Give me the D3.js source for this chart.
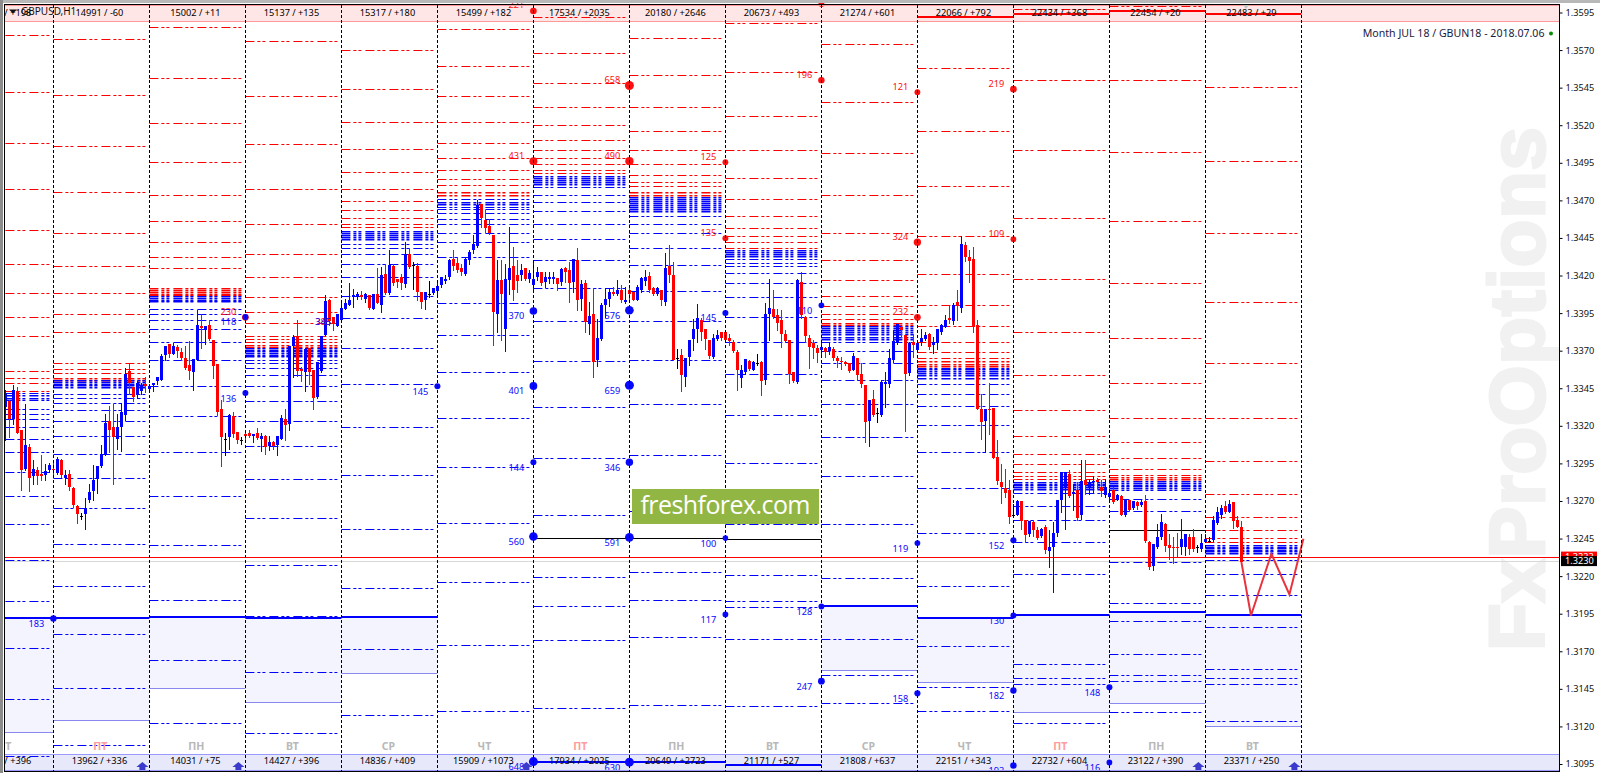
<!DOCTYPE html>
<html><head><meta charset="utf-8">
<script src="https://cdn.jsdelivr.net/npm/d3@7/dist/d3.min.js"></script>
<style>html,body{margin:0;padding:0;background:#fff}svg{display:block}text{font-family:"Noto Sans",sans-serif}</style>
</head><body><svg id="c" width="1600" height="773"></svg>
<script>
// all prices in pips above 1.3000
const priceTicks=[595,570,545,520,495,470,445,420,395,370,345,320,295,270,245,220,195,170,145,120,95];
const headerLabels=["15051 / +198","14991 / -60","15002 / +11","15137 / +135","15317 / +180","15499 / +182","17534 / +2035","20180 / +2646","20673 / +493","21274 / +601","22066 / +792","22434 / +368","22454 / +20","22483 / +29"];
const footerLabels=["13626 / +396","13962 / +336","14031 / +75","14427 / +396","14836 / +409","15909 / +1073","17934 / +2025","20649 / +2723","21171 / +527","21808 / +637","22151 / +343","22732 / +604","23122 / +390","23371 / +250"];
const dayLabels=["ЧТ","ПТ","ПН","ВТ","СР","ЧТ","ПТ","ПН","ВТ","СР","ЧТ","ПТ","ПН","ВТ"];
const arrowCols=[1,2,5,12,13];
const redLevels=[
[579.8,541.8,507.9,477.3,450.6,428,408.7,392.7,380,356.7,352,348.8,343.2],
[577.1,539.8,505.9,475.3,448.6,426.6,408.7,394.7,382.7,362.1,358.1,355.2,352.1,350.8],
[585.1,551.1,521.2,495.2,473.9,456.6,442.6,432,424.7,412,410.7,409.3,408,407.1],
[575.8,539.2,507.2,477.9,454,434.6,418.7,406,396,388.7,380,378,376,374,372.7],
[569.8,543.8,521.9,503.9,489.2,477.9,469.9,463.9,458.6,454,452.2],
[583.8,559.1,539.2,521.9,507.9,497.9,489.9,483.9,479.9,475.3,473.9],
[591.8,567.8,547.8,531.8,519.9,509.9,503.2,497.9,493.9,489.9,487.9],
[577.8,553.2,531.8,515.9,503.2,493.9,487.2,481.9,479.3,475.3,473.9],
[587.8,555.1,525.9,503.2,485.2,470.6,459.9,451.9,446.6,442.6,438.5],
[573.8,535.2,501.2,473.3,448.6,430.6,416.7,406.7,400,394.7,391.4,388.7,387.4],
[557.8,515.9,479.3,446.6,420.7,400.7,386.1,376.1,368.8,364.8,362.8,361.4,360.1],
[597.3,549.8,503.2,458.6,418,382.7,354.1,330.8,313.5,301.5,294.9,289.5,286.9,284.9],
[599.3,549.8,501.9,456.6,414.7,378.7,348.8,325.5,309.4,298.9,291.5,287.6,285.7,284.8],
[545.2,495.9,448.6,402.7,362.1,325.5,296.9,274.8,259.5,250.8,245.5,242.8]];
const blueLevels=[
[342.1,340.3,338.8,337,331.5,328.1,324.8,319.5,311.5,302.8,289.5,273.5,254.9,230.9,203.6,172.3,138.4,100.4],
[350.3,349.2,348.1,347,345.9,341.4,338.8,335.4,330.8,323.5,313.5,301.5,285.5,265.3,241.6,213.6,181.7,145.7,107.8],
[406.2,405.1,404,402.9,398,394.7,390.7,384.7,376.1,364.1,346.8,326.8,302.8,273.5,240.9,204.3,164.3,122.4],
[371.8,370.7,369.6,368.5,367.4,366.3,364.1,362.1,358.7,354.1,346.8,336.8,323.5,306.8,284.9,258.9,227.6,193.6,156.4,115.7],
[449.7,448.4,447.1,445.7,444.4,441.3,438.6,434,428,418.7,406.7,392,372,348.1,319.5,287.5,251.6,212.3,171.7,127.7],
[470.6,469,467.5,465.7,464,461.3,457.9,454.6,448.6,442,432,402,380.7,356.1,325.5,292.8,255.5,216.3,174.3,130.4],
[486.1,484.8,483.5,481.9,480.6,479,473.3,468.6,462.6,454.6,444,430,412,390,362.8,332.8,298.9,260.8,219.5,200.2,177.6,132.3],
[472.4,471,469.7,468.4,467,465.7,464.4,463,459.9,454.6,448.6,438.6,426.7,410,390,364.1,334.8,300.9,263.5,222.9,204.2,179.6,134.3],
[436.9,435.6,434.2,432.9,430.7,428.5,426.2,422,414.7,406,392.7,376.1,354.8,327.5,295.5,254.8,220.9,203.5,199.6,178.3,133.6],
[386.3,385,383.6,382.3,381,379.2,377.6,375.9,370.1,362.1,350.8,334.8,312.8,286.9,254.8,218.9,178.3,154.3,135.6,90.6],
[358.8,357.7,356.6,355.4,353.7,352.1,348.1,341.5,333.5,320.8,302.9,278.9,248.8,213.5,173.6,146.3,130.3,90.6],
[282.6,281.5,280.3,279.2,278.1,275.5,266.8,257.5,242.8,221.5,161.6,152.3,148.3,122.3],
[283.2,281.9,280.8,279.7,278.6,277,271.2,263.5,229.5,202.2,190.2,168.3,154.1,150.3,129.7],
[240.8,239.7,238.6,237.5,236.4,235.3,230.9,221.5,207.6,186.3,158.3,152.3,148.3,123.7]];
// [column, price]
const thickBlue=[[0,191.9],[1,191.9],[2,192.5],[3,191.9],[4,192.5],[6,96.1],[7,96],[8,94.6],[9,200],[10,192],[11,194],[12,195.8],[13,194]];
const fillFloor=[[0,191.9,116.4],[1,191.9,124.4],[2,192.5,145.7],[3,191.9,136.4],[4,192.5,155.7],[9,200,157.8],[10,192,149.6],[11,194,129.7],[12,195.8,135.7],[13,194,120.3]];
const thickRed=[[10,592.2],[11,594],[12,596.2],[13,594]];
const blackLevels=[[6,245.5],[7,245.5],[8,244.8],[12,250.8]];
// [separator, price, volume label]
const redDots=[[5,596,221],[5,496.1,431],[6,546.4,658],[6,496.1,490],[7,495.4,125],[7,444.8,135],[8,550,196],[8,600.6,null],[9,542,121],[10,544,219],[9,442.2,324],[10,444.2,109],[9,392.2,232],[2,392.2,230]];
const blueDots=[[2,392.4,118],[2,341.8,136],[4,346.3,145],[5,396.4,370],[5,346.5,401],[5,295.7,144],[5,246.4,560],[0,191.8,183],[5,96.6,648],[6,396.9,576],[6,347,659],[6,295.7,346],[6,245.8,591],[6,96.2,630],[7,395.1,145],[7,245.3,100],[7,194.5,117],[8,400.2,110],[8,199.8,128],[8,150.1,247],[9,242,119],[9,142.1,158],[10,243.8,152],[10,193.8,130],[10,143.9,182],[10,94,193],[11,146.1,148],[11,96,116]];
const bidPrice=233, askPrice=230;
const forecastBars=[309,311.4,316.5,321,324.5];
const forecastPrices=[229.3,193.8,234.9,207.8,244.8];
// open, high, low, close
const candles=[
[332.6,343.7,310.4,341.4],[336.6,337,312.6,324.8],[324.8,347,321.5,343.7],[343.2,345.9,315,315.5],[317,317.5,277,290.4],[291,334.8,290.4,307],[306,307.7,276.6,285.3],[286.4,297,281,291.5],[290.8,292.6,281.5,286.4],[287.7,300.8,283.7,286.4],
[287.1,294.8,284.2,290],[290.4,295.3,289.5,293.7],[291.5,297,286,290.6],[288.8,299.3,288.2,297.7],[297,297.7,286,287],[285.5,290.8,281,287],[287.7,290.8,277,279.3],[278.9,279.3,266,267.1],[266.7,267.1,255.3,261.1],[260.2,262,258.2,260.2],
[261.1,272.2,251.1,265.5],[270.4,281.5,269.3,275.8],[276.6,293.7,270.4,283.7],[284.6,293,275.3,293],[293.3,307,292.6,301],[301.3,327.7,300.4,321.7],[323,333,302.6,317],[319.2,334.8,281,312.6],[311.5,328.1,304.8,319],[319.2,335.2,303.3,329],
[327.2,358.7,323.7,354.8],[356.3,361,341.4,348.8],[345.9,345.9,336.6,339.2],[340.3,349.9,338.8,348.5],[343.2,348.5,341.4,347],[348.1,352.5,342.5,346.3],[344.5,347.6,344,346.8],[347.4,348.8,343.2,348.8],[349.9,352.5,348.1,352.5],[350.3,368,350.3,366.3],
[367,373,363.6,373],[374.3,374.7,365.8,368],[367.6,375.2,367.6,373],[372.5,373.6,365.8,369.8],[369,372,363.6,365.4],[365.2,373,358.1,358.5],[360.3,376.3,351.4,356.3],[355.6,364.7,344.1,364.7],[364.1,396.9,363.6,386.9],[386.3,394.7,372,384.9],
[384,386.3,374.7,386.3],[386.9,390.7,377,378],[377,377,351.9,359.6],[361,361,327,329.2],[331,337,293.3,312.6],[311.5,315.5,300.6,311.5],[312.6,327.7,304.8,327.5],[326.8,329.5,312.6,314.4],[315.7,315.9,308.6,310.8],[310.4,312.6,308.2,310.4],
[314.8,317,311.5,313.3],[315,317,312.6,313.3],[313,314.8,309.3,314.4],[315,318.6,311,312.1],[311,315,303.3,313],[313.5,313.7,301.5,306],[306.4,313.3,303.7,309.3],[309.5,309.7,304.8,306.8],[307,313,300.8,313],[311.3,327,311,325.5],
[324.8,331,310.4,320.6],[321,373,317,373],[373,380.3,352.5,379.2],[379.6,390.7,353,356.5],[358,359.2,349.9,356.5],[355.9,372,343.2,371.2],[372,372,347.6,355.9],[357,357,331.2,338.8],[339.2,362.5,338.8,362.5],[356.5,379.6,355.9,379.6],
[380.3,406.9,380.3,402.9],[404,404.7,387,389.8],[392.5,392.5,384,388],[386.7,394.3,386.3,394.3],[390.7,401.4,390.7,398.7],[397.4,404.7,397.4,401.4],[400.2,414.7,400.2,403.6],[405.8,411.3,399.1,406.9],[405.8,409.1,404.7,408],[406.9,409.8,404.7,405.8],
[404.7,408.5,402.5,408],[406.9,406.9,398,398.5],[397.6,408,397.4,408],[408,424.7,401.4,401.8],[400.7,425.8,395.8,420.2],[420.9,428,408,408.5],[408.5,436.9,408,426.9],[426.2,428,413.6,414.7],[418,418,412.4,415.8],[418.7,421.3,411.3,415.1],
[414.2,442.4,412.4,434],[434.6,438.4,424.7,425.8],[426.9,429,411.3,426.9],[426.2,428.4,403.6,409.1],[408.9,409.1,398.5,402.5],[403.6,408.9,397.4,408.9],[408,416.2,405.8,408],[408.5,412,408,412],[409.8,416.9,408,412.9],[413.6,419.1,412.4,418.7],
[416.2,420.2,415.1,418],[418.7,431,418,430],[431.3,436.9,424,426.6],[428.4,432.4,422.4,423.5],[424.9,427.5,420.2,422.4],[421.3,432,420.2,431.3],[430.2,437,428,435.8],[436.9,446.9,435,441.3],[439.8,470.2,439,466.8],[467.5,467.9,452.4,458],
[456.8,463.5,449.1,451.7],[452.8,457.9,447.9,448.6],[446.9,447,373.6,395.8],[394.7,430,382.5,416.9],[416.9,430,377,408],[384.7,428,369.8,418],[416.9,452.4,408,424.7],[426.2,439,403.6,410.2],[420.2,430,409,416.4],[420.2,427.5,416.9,423.5],
[425.1,425.1,417,418],[418,423.6,415.8,421.4],[413.6,430.2,410.7,418],[419.1,425.8,416.9,422.5],[422.5,422.5,413.6,414.7],[415.4,422.5,412.5,419.1],[418,422.5,414.7,419.1],[417.6,422.5,414.7,419.1],[418.5,418.5,410.3,414.2],[415.8,425.1,413.6,424.5],
[425.1,425.8,415.8,422.5],[424,429.1,402.5,414.7],[415.8,430.7,409.1,430.7],[430.2,438,397,403.6],[404.7,416.9,397,414.2],[414.7,416.9,382.5,389.2],[387.6,402.5,381.4,393],[394.3,411.4,352.6,362.5],[363.7,391.4,359.9,378.7],[377.6,401.4,377,400.3],
[400.3,412,392.5,404.5],[404.3,412,399.6,408.9],[408.9,412.5,406.9,407.6],[407.6,416.9,406.9,410.3],[410.7,413.6,402.5,404],[402.3,412.5,401.8,404],[410.3,412.5,404.7,407.6],[408.9,408.9,403.6,404],[404,413.6,403.6,412.5],[410.3,419.1,409.1,418.2],
[416.2,424,413.6,418.7],[420,422.5,409.1,410.3],[412,412.5,406.9,408],[407.6,412.5,406.9,412],[410.7,410.7,400.3,403.6],[402.5,434.7,400.3,424.9],[426.2,440.2,415.8,420.2],[420.2,428.7,363.7,364.1],[364.8,370.8,358.6,364.8],[366.8,370.8,343.2,353.7],
[352.6,365,346.6,365],[365.9,377,360.3,377],[377.6,391.4,370.3,384.3],[384.3,400.9,375.9,392],[390.3,392,377.4,382.5],[384.3,384.3,371.4,377.6],[377,377,364.8,366.3],[365.9,381.4,365.4,378.7],[378,383.6,377,380.7],[382.3,382.3,377,378.7],
[382.3,382.3,376.5,377],[378.3,381.4,373.6,376.3],[376.1,377,369.2,369.9],[369,370.3,344.1,357],[352.1,360.3,345.9,357],[355.9,364.5,354.3,364.5],[362.8,363.7,357.4,358.1],[357.4,362.8,357,362.3],[361.9,368.1,360.3,361.9],[362.3,362.8,340.4,349.7],
[350.3,401.8,347.7,394.3],[394.3,418,377.4,398.7],[397.8,410.7,392,392.5],[393.8,397.4,383.6,388.5],[390.7,396.9,372.5,381.4],[381,383.6,375.9,376.5],[377,377,348.6,354.8],[356.1,356.1,349.2,349.9],[349.2,417.4,348.6,416.9],[416,422.5,392,393.6],
[392.5,393,375.9,379.6],[378.7,380.1,358.6,372.5],[374.8,377,364.8,372.1],[372.1,373.6,362.5,368.5],[370.3,375.9,365.9,372.5],[371.6,372.5,365.9,369],[369.9,374.8,367.6,372.5],[370.8,372.5,363.7,365.4],[365,366.3,359.2,363.2],[363.2,365.9,358.1,362.3],
[362.5,363.2,360.3,361],[361.9,361.9,355.9,356.6],[357.4,368.5,357,366.3],[365,365.4,350.3,353.7],[354.8,361.9,346,347.7],[347,347,309.3,322.6],[323.3,337,306.4,337],[337.7,343.7,326.4,327],[328.6,332.1,322.6,328.6],[327.3,350.3,326.8,349],
[348.1,356.1,332.6,349],[347.7,370.8,345.9,364.8],[363.7,383.6,362.5,376.3],[374.8,387.6,374.3,387.6],[385.8,386.3,379.2,384],[380.1,381.4,316.4,354.3],[355.4,375.9,353.7,374.8],[375.9,381.4,365.9,373.6],[370.3,377,369.9,374.8],[375.9,384.1,373.6,378.3],
[378.1,382.5,377,380.1],[381,381.9,371.4,372.5],[373.6,379.2,368.5,375.9],[374.8,384.7,370.8,384.5],[382.5,387.6,381.4,387],[385.8,394,385.8,390.7],[392,400.3,388.5,390.3],[389.8,401.4,388,400.5],[402.3,410.3,390.3,400],[398.7,446.6,395.8,440.9],
[440.2,442.2,429.8,432],[432,436.9,415.8,429.8],[430.7,438.7,382.5,385.8],[387,390.3,331,331.5],[331,341,311.3,322.6],[323.3,331,302.9,331],[331.5,348.6,314.8,330.4],[331.7,331.7,298.6,298.6],[299.3,310.8,281.5,283.3],[282.6,294.9,268.6,279.3],
[278.9,291.1,272.6,275.2],[277,283.8,255.3,259.2],[261,268.1,260.4,261],[261,270.8,260.4,270.3],[269.9,269.9,251.5,257],[257.5,257.5,243,247.5],[248.2,257,246.6,257],[255.9,257.5,247,250.8],[250.8,252.6,244.8,245.3],[246.4,252.1,245.9,251.5],
[253,253.7,235.5,237.5],[236.6,250.4,226,239.3],[239.3,255.9,209.3,248.8],[248.6,270.8,247,270.8],[270.8,289.2,262.6,289.2],[279.2,289.2,251.5,289.2],[288.1,290.8,272.6,273],[274.8,281.5,263.7,275.9],[277,282.6,257.5,258.8],[260.4,297,258.2,283.2],
[283.7,297,274.8,280.8],[279.2,284.8,274.8,281.9],[282.6,286.3,275.2,283.2],[284.1,285.4,278.8,282.6],[279.2,283.7,273,276.6],[273.7,284.8,272.6,279.2],[272.6,278.1,271.5,275.2],[277,279.2,268.6,269.2],[270.8,274.4,270.4,273.7],[273,273.7,260.4,261],
[260.6,271.2,260.2,271.2],[270.4,270.8,263.3,264.1],[265,269.7,264.8,269.7],[269,269.7,264.8,266.4],[267,271.5,266.4,269],[270.3,273.7,242.6,243.3],[242.8,243.7,224.9,226.4],[226.9,241.1,224.2,241.1],[239.3,254.8,238.8,246],[246,261.5,244.8,255.9],
[254.8,255.3,237,240.2],[240.4,247.7,231.5,238.8],[239.7,246,228.6,238.8],[239.7,248.6,232.6,238.8],[239.3,257.7,234.9,244.8],[239.7,247.7,234.2,247.7],[246,247.7,234.9,238.2],[246,251.5,237,238.2],[239.3,240.4,236,239.3],[238.2,247.7,236.6,242],
[242.8,248.2,242.6,245],[243.7,246,242.8,243.7],[244.2,259.7,243.3,257.5],[255.3,265.9,254.8,262.8],[261,267,258.8,265.5],[266.6,269.9,261.9,262.6],[262.8,270.8,262.4,267.7],[269,269,252.2,256.4],[257.5,259.7,252.6,253],[253,257,228.6,229.3]];

const W=1600,H=773,L=5,R=1559,T=5,B=771;
const price=p=>1.3+p/10000;
const x=d3.scaleLinear().domain([0,309]).range([5.4,1241.4]);
const y=d3.scaleLinear().domain([1.3595,1.3095]).range([12.5,764]);
const yp=p=>Math.round(y(price(p)));
const sepBar=s=>12+24*s;              // separator s sits at the bar index
const colStart=c=>x(sepBar(c-1)), colEnd=c=>x(sepBar(c));
const RED="#ff0000",BLUE="#0000ff";
const svg=d3.select("#c");
svg.append("defs").append("clipPath").attr("id","plot").append("rect").attr("x",L).attr("y",3).attr("width",R-L).attr("height",B-3);
// window chrome
svg.append("rect").attr("width",W).attr("height",H).attr("fill","#fff");
svg.append("rect").attr("width",W).attr("height",3).attr("fill","#b8b8b8");
svg.append("rect").attr("width",3).attr("height",H).attr("fill","#8c8c8c");
const g=svg.append("g").attr("clip-path","url(#plot)");
// watermark
g.append("text").attr("transform","translate(1544,651) rotate(-90)").attr("font-size",78).attr("font-weight",700)
 .style("font-family","'Liberation Sans'").attr("fill","#f1f1f1").attr("stroke","#f1f1f1").attr("stroke-width",3)
 .attr("textLength",524).text("FxProOptions");
// fills
g.selectAll(".fl").data(fillFloor).join("rect").attr("x",d=>Math.max(colStart(d[0]),L)).attr("width",d=>colEnd(d[0])-Math.max(colStart(d[0]),L))
 .attr("y",d=>yp(d[1])).attr("height",d=>yp(d[2])-yp(d[1])).attr("fill","#f3f4fd");
// header / footer strips
g.append("rect").attr("x",L).attr("y",5).attr("width",R-L).attr("height",16.5).attr("fill","#ffe6e6");
svg.append("line").attr("x1",L).attr("x2",R).attr("y1",5.5).attr("y2",5.5).attr("stroke","#ff9999");
svg.append("line").attr("x1",L).attr("x2",R).attr("y1",21.5).attr("y2",21.5).attr("stroke","#ff9999");
g.append("rect").attr("x",L).attr("y",754).attr("width",R-L).attr("height",16).attr("fill","#e8e8fb");
svg.append("line").attr("x1",L).attr("x2",R).attr("y1",754.5).attr("y2",754.5).attr("stroke","#9999ff");
svg.append("line").attr("x1",L).attr("x2",R).attr("y1",770.5).attr("y2",770.5).attr("stroke","#9999ff");
g.selectAll(".flb").data(fillFloor).join("line").attr("x1",d=>colStart(d[0])).attr("x2",d=>colEnd(d[0]))
 .attr("y1",d=>yp(d[2])+.5).attr("y2",d=>yp(d[2])+.5).attr("stroke","#8888ee");
// levels: strikes that crowd together merge into a heavier band, as on the terminal
const flat=(arr,color)=>arr.flatMap((a,c)=>a.map((p,i)=>{
  const gap=Math.min(i>0?Math.abs(a[i-1]-p):99,i<a.length-1?Math.abs(a[i+1]-p):99);
  return {c,p,color,dense:gap<1.6};
}));
const lv=[...flat(redLevels,RED),...flat(blueLevels,BLUE)];
g.selectAll(".lv").data(lv).join("line").attr("x1",d=>colStart(d.c)).attr("x2",d=>colEnd(d.c)-3)
 .attr("y1",d=>d.dense?yp(d.p)+.75:yp(d.p)+.5).attr("y2",d=>d.dense?yp(d.p)+.75:yp(d.p)+.5).attr("stroke",d=>d.color)
 .attr("stroke-dasharray","9 3 3 2 3 4").attr("stroke-width",d=>d.dense?1.5:1);
// solid black lines
g.selectAll(".bk").data(blackLevels).join("line").attr("x1",d=>colStart(d[0])).attr("x2",d=>colEnd(d[0]))
 .attr("y1",d=>yp(d[1])+.5).attr("y2",d=>yp(d[1])+.5).attr("stroke","#000");
// thick
g.selectAll(".tb").data(thickBlue).join("line").attr("x1",d=>colStart(d[0])).attr("x2",d=>colEnd(d[0]))
 .attr("y1",d=>yp(d[1])).attr("y2",d=>yp(d[1])).attr("stroke",BLUE).attr("stroke-width",2);
g.selectAll(".tr").data(thickRed).join("line").attr("x1",d=>colStart(d[0])).attr("x2",d=>colEnd(d[0]))
 .attr("y1",d=>yp(d[1])).attr("y2",d=>yp(d[1])).attr("stroke",RED).attr("stroke-width",2);
// separators
const seps=d3.range(0,14);
svg.selectAll(".sp").data(seps).join("line").attr("x1",s=>Math.round(x(sepBar(s)))+.5).attr("x2",s=>Math.round(x(sepBar(s)))+.5)
 .attr("y1",T).attr("y2",B).attr("stroke","#000").attr("stroke-dasharray","3 2");
// bid/ask lines
g.append("line").attr("x1",L).attr("x2",R).attr("y1",yp(askPrice)+.5).attr("y2",yp(askPrice)+.5).attr("stroke","#d8d8d8");
g.append("line").attr("x1",L).attr("x2",R).attr("y1",yp(bidPrice)+.5).attr("y2",yp(bidPrice)+.5).attr("stroke",RED);
// candles
const col=d=>d[3]>d[0]?BLUE:d[3]<d[0]?RED:"#000";
const cg=g.append("g");
cg.selectAll(".w").data(candles).join("line").attr("x1",(d,i)=>Math.round(x(i))+.5).attr("x2",(d,i)=>Math.round(x(i))+.5)
 .attr("y1",d=>yp(d[1])).attr("y2",d=>yp(d[2])+1).attr("stroke",col);
cg.selectAll(".b").data(candles).join("rect").attr("x",(d,i)=>Math.round(x(i))-1).attr("width",3)
 .attr("y",d=>yp(Math.max(d[0],d[3]))).attr("height",d=>Math.max(1,yp(Math.min(d[0],d[3]))-yp(Math.max(d[0],d[3]))))
 .attr("fill",col);
// forecast
g.append("path").datum(forecastBars.map((b,i)=>[b,forecastPrices[i]])).attr("fill","none").attr("stroke","#e8333c").attr("stroke-width",2)
 .attr("d",d3.line().x(d=>x(d[0])).y(d=>y(price(d[1]))));
// dots + labels
const r=d3.scaleSqrt().domain([100,660]).range([2.8,4.5]);
const dots=(data,color,off)=>{
 g.selectAll(null).data(data).join("circle").attr("cx",d=>x(sepBar(d[0]))).attr("cy",d=>y(price(d[1]))).attr("r",d=>r(d[2]==null?120:d[2])).attr("fill",color);
 g.selectAll(null).data(data.filter(d=>d[2]!=null)).join("text").attr("x",d=>x(sepBar(d[0]))-9).attr("y",d=>y(price(d[1]))+off).attr("text-anchor","end")
  .attr("dominant-baseline","middle").attr("font-size",9.2).attr("fill",color).text(d=>d[2]);
};
dots(redDots,"#ff1010",-5); dots(blueDots,"#0808ff",6);
const xtra=g.append("g").attr("font-size",9.2).attr("text-anchor","end").attr("dominant-baseline","middle");
xtra.append("text").attr("x",331).attr("y",y(price(388.7))).attr("dominant-baseline","middle").attr("fill","#ff1010").text(385);
xtra.append("text").attr("x",331).attr("y",y(price(388.7))).attr("dominant-baseline","middle").attr("fill","#0808ff").text(345);
// header / footer text
const cx=c=>colStart(c)+46;
g.selectAll(".h").data(headerLabels).join("text").attr("x",(d,i)=>cx(i)).attr("y",13.5).attr("text-anchor","middle").attr("dominant-baseline","middle").attr("font-size",9.2).attr("fill","#000").text(d=>d);
g.selectAll(".f").data(footerLabels).join("text").attr("x",(d,i)=>cx(i)).attr("y",762).attr("text-anchor","middle").attr("dominant-baseline","middle").attr("font-size",9.2).attr("fill","#000").text(d=>d);
g.selectAll(".d").data(dayLabels).join("text").attr("x",(d,i)=>colStart(i)+47).attr("y",747).attr("text-anchor","middle").attr("dominant-baseline","middle").attr("font-size",10.5).attr("font-weight",700)
 .attr("fill",d=>d==="ПТ"?"#ff9c9c":"#b8b8b8").text(d=>d);
// arrows
g.selectAll(".ar").data(arrowCols).join("path").attr("transform",c=>`translate(${colEnd(c)-7},766)`).attr("fill","#3a3acc")
 .attr("d","M-6,1 L0,-4 L6,1 L3,1 L3,4 L-3,4 L-3,1 Z");
// top-left symbol
svg.append("path").attr("d","M9,9.5 L17,9.5 L13,13.5 Z").attr("fill","#111");
svg.append("text").attr("x",21).attr("y",12).attr("dominant-baseline","middle").attr("font-size",10).attr("fill","#111").text("GBPUSD,H1");
svg.append("path").attr("transform","translate(1246,5)").attr("d","M-3,0 L3,0 L0,4 Z").attr("fill","#c4c4c4");
// info
svg.append("text").attr("x",1544.5).attr("y",34.5).attr("text-anchor","end").attr("dominant-baseline","middle").attr("font-size",10.6).attr("fill","#1a1a40").text("Month JUL 18 / GBUN18 - 2018.07.06");
svg.append("circle").attr("cx",1551).attr("cy",33.5).attr("r",2).attr("fill","#0a8a0a");
// freshforex
const ff=svg.append("g");
ff.append("rect").attr("x",632).attr("y",489).attr("width",187).attr("height",35).attr("fill","#92b644");
ff.append("text").attr("x",725.5).attr("y",507).attr("text-anchor","middle").attr("dominant-baseline","middle").attr("font-size",25).style("font-family","'Open Sans'").attr("fill","#fff").attr("textLength",170).text("freshforex.com");
// frame & axis
svg.append("rect").attr("x",4.5).attr("y",4.5).attr("width",R-4.5+.5).attr("height",B-4).attr("fill","none").attr("stroke","#000");
const axis=d3.axisRight(y).tickValues(priceTicks.map(price)).tickFormat(d3.format(".4f")).tickSize(3).tickPadding(3);
const ag=svg.append("g").attr("transform",`translate(${R+.5},0)`).call(axis);
ag.select(".domain").remove();
ag.selectAll("text").attr("font-size",9.2).style("font-family","'Noto Sans'").attr("fill","#111");
ag.selectAll("line").attr("stroke","#000");
// price tags
const tag=(p,fill)=>{const yy=y(price(p));
 svg.append("rect").attr("x",1561).attr("y",yy-5).attr("width",36).attr("height",10).attr("fill",fill);
 svg.append("text").attr("x",1565).attr("y",yy+.5).attr("dominant-baseline","middle").attr("font-size",9.2).attr("fill","#fff").text(price(p).toFixed(4));};
tag(bidPrice,RED); tag(askPrice,"#000");
</script></body></html>
